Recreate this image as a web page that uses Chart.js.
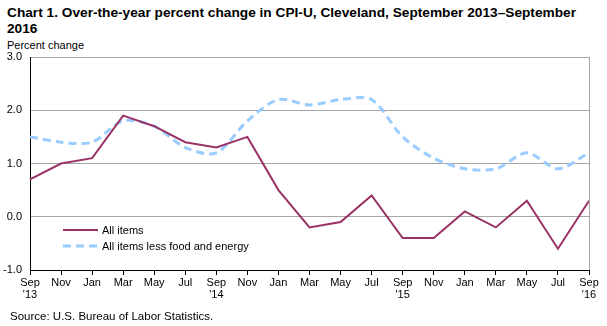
<!DOCTYPE html>
<html>
<head>
<meta charset="utf-8">
<script src="https://cdn.jsdelivr.net/npm/chart.js@4"></script>
<style>
  html, body { margin: 0; padding: 0; background: #fff; }
  body { width: 607px; height: 326px; position: relative; overflow: hidden; font-family: "Liberation Sans", Arial, sans-serif; }
  #title { position: absolute; left: 7px; top: 5px; font: bold 13.7px "Liberation Sans", Arial, sans-serif; line-height: 16px; color: #000; white-space: nowrap; }
  #ylabel { position: absolute; left: 7px; top: 39px; font-size: 11px; color: #000; }
  #source { position: absolute; left: 10px; top: 310px; font-size: 11.5px; color: #000; }
  canvas { position: absolute; left: 0; top: 0; }
</style>
</head>
<body>
<div id="title">Chart 1. Over-the-year percent change in CPI-U, Cleveland, September 2013–September<br>2016</div>
<div id="ylabel">Percent change</div>
<canvas id="cpi" width="607" height="326"></canvas>
<div id="source">Source: U.S. Bureau of Labor Statistics.</div>
<script>
// Bimonthly months, Sep 2013 to Sep 2016
const months = [
  ['Sep', "'13"], 'Nov', 'Jan', 'Mar', 'May', 'Jul',
  ['Sep', "'14"], 'Nov', 'Jan', 'Mar', 'May', 'Jul',
  ['Sep', "'15"], 'Nov', 'Jan', 'Mar', 'May', 'Jul',
  ['Sep', "'16"]
];
const allItems = [0.7, 1.0, 1.1, 1.9, 1.7, 1.4, 1.3, 1.5, 0.5, -0.2, -0.1, 0.4, -0.4, -0.4, 0.1, -0.2, 0.3, -0.6, 0.3];
const lessFoodEnergy = [1.5, 1.4, 1.4, 1.8, 1.7, 1.3, 1.2, 1.8, 2.2, 2.1, 2.2, 2.2, 1.5, 1.1, 0.9, 0.9, 1.2, 0.9, 1.2];
const yTicks = [-1, 0, 1, 2, 3];

const FONT = '"Liberation Sans", Arial, sans-serif';

// legend inside the plot + gray right border
const extras = {
  id: 'extras',
  afterDatasetsDraw(chart) {
    const { ctx, chartArea } = chart;
    ctx.save();
    ctx.strokeStyle = '#a6a6a6';
    ctx.lineWidth = 1;
    ctx.beginPath();
    ctx.moveTo(Math.round(chartArea.right) + 0.5, chartArea.top);
    ctx.lineTo(Math.round(chartArea.right) + 0.5, chartArea.bottom);
    ctx.stroke();

    const items = chart.data.datasets;
    const ys = [230, 246];
    ctx.font = '11px ' + FONT;
    ctx.textBaseline = 'middle';
    ctx.fillStyle = '#000';
    items.forEach((ds, i) => {
      ctx.strokeStyle = ds.borderColor;
      ctx.lineWidth = ds.borderWidth;
      ctx.setLineDash(ds.borderDash || []);
      ctx.beginPath();
      ctx.moveTo(63, ys[i]);
      ctx.lineTo(98, ys[i]);
      ctx.stroke();
      ctx.setLineDash([]);
      ctx.fillText(ds.label, 102, ys[i] + 0.5);
    });
    ctx.restore();
  }
};

new Chart(document.getElementById('cpi'), {
  type: 'line',
  data: {
    labels: months,
    datasets: [
      {
        label: 'All items',
        data: allItems,
        borderColor: '#993366',
        borderWidth: 2,
        pointRadius: 0,
        tension: 0,
        fill: false
      },
      {
        label: 'All items less food and energy',
        data: lessFoodEnergy,
        borderColor: '#99ccff',
        borderWidth: 3,
        borderDash: [8, 5],
        pointRadius: 0,
        tension: 0.3,
        fill: false
      }
    ]
  },
  options: {
    responsive: false,
    animation: false,
    layout: { padding: { left: 0, right: 18, top: 57, bottom: 0 } },
    plugins: { legend: { display: false }, tooltip: { enabled: false } },
    scales: {
      x: {
        offset: false,
        afterFit: s => { s.height = 56; },
        border: { color: '#000', width: 1 },
        grid: { drawOnChartArea: false, drawTicks: true, tickLength: 5, color: '#000' },
        ticks: { autoSkip: false, maxRotation: 0, padding: 2, color: '#000', font: { family: FONT, size: 11, lineHeight: 1.1 } }
      },
      y: {
        min: -1,
        max: 3,
        afterFit: s => { s.width = 30; },
        afterBuildTicks: s => { s.ticks = yTicks.map(v => ({ value: v })); },
        border: { color: '#000', width: 1 },
        grid: { color: '#a6a6a6', drawTicks: false },
        ticks: { padding: 8, color: '#000', font: { family: FONT, size: 11 }, callback: v => v.toFixed(1) }
      }
    }
  },
  plugins: [extras]
});
</script>
</body>
</html>
